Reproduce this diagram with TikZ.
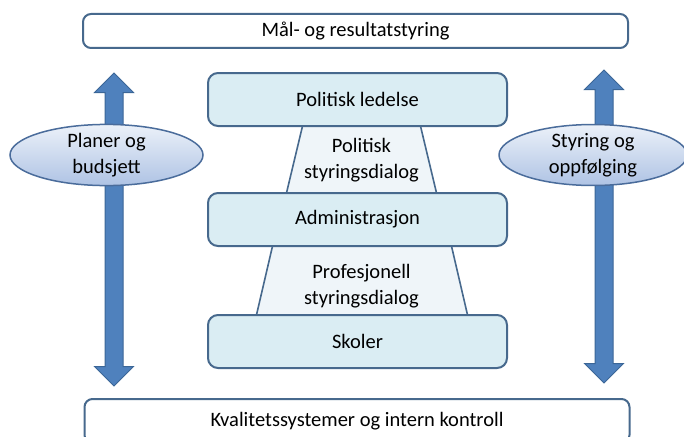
\documentclass[tikz,border=0pt]{standalone}
\usepackage{fontspec}
\setmainfont{Carlito}
\usetikzlibrary{shapes.geometric}

\definecolor{boxline}{HTML}{47698D}
\definecolor{boxfill}{HTML}{DAEDF3}
\definecolor{dialogfill}{HTML}{EFF5F9}
\definecolor{arrowfill}{HTML}{4F81BD}
\definecolor{arrowline}{HTML}{3B6697}
\definecolor{bubbleline}{HTML}{4A6C9B}
\definecolor{bubbletop}{HTML}{ECF1F9}
\definecolor{bubblebot}{HTML}{AEC3E4}

\begin{document}
\begin{tikzpicture}[x=1pt, y=-1pt, font=\fontsize{20.5}{25.5}\selectfont,
  level/.style={draw=boxline, line width=2pt, fill=boxfill, rounded corners=10pt, minimum width=299pt, minimum height=53pt},
  frame/.style={draw=boxline, line width=2pt, fill=white, rounded corners=8pt, minimum width=545pt, minimum height=34pt},
  dialog/.style={draw=boxline, line width=1.6pt, fill=dialogfill, line join=round},
  blockarrow/.style={draw=arrowline, line width=1pt, fill=arrowfill},
  bubble/.style={ellipse, draw=bubbleline, line width=1.5pt, top color=bubbletop, bottom color=bubblebot, minimum width=190pt, minimum height=60pt, inner sep=0pt, align=center}]
\useasboundingbox (0,0) rectangle (684,436);

% Frames at top and bottom
\node[frame] (goal) at (355.5,31) {Mål- og resultatstyring};
\node[frame, minimum height=44pt] (quality) at (357,421) {Kvalitetssystemer og intern kontroll};

% Dialog layers
\filldraw[dialog] (303,124) -- (420,124) -- (437,195) -- (286,195) -- cycle;
\filldraw[dialog] (273,244) -- (451,244) -- (468,317) -- (256,317) -- cycle;
\node[align=center] (poldialog) at (361.5,160) {Politisk\\styringsdialog};
\node[align=center] (profdialog) at (361.5,286) {Profesjonell\\styringsdialog};

% Levels
\node[level] (pol) at (357.5,99.5) {Politisk ledelse};
\node[level] (adm) at (357.5,219.5) {Administrasjon};
\node[level] (school) at (357.5,341.5) {Skoler};

% Side arrows
\foreach \x/\t/\b in {114/73/386, 604/70/383}
  \filldraw[blockarrow] (\x,\t) -- ++(19.5,19.5) -- ++(-10.5,0) -- (\x+9,\b-19.5) -- ++(10.5,0) -- (\x,\b) -- ++(-19.5,-19.5) -- ++(10.5,0) -- (\x-9,\t+19.5) -- ++(-10.5,0) -- cycle;

\node[bubble, minimum width=193pt] (plans) at (106.5,155) {Planer og\\budsjett};
\node[bubble, minimum width=188pt] (follow) at (593,155) {Styring og\\oppfølging};
\end{tikzpicture}
\end{document}
